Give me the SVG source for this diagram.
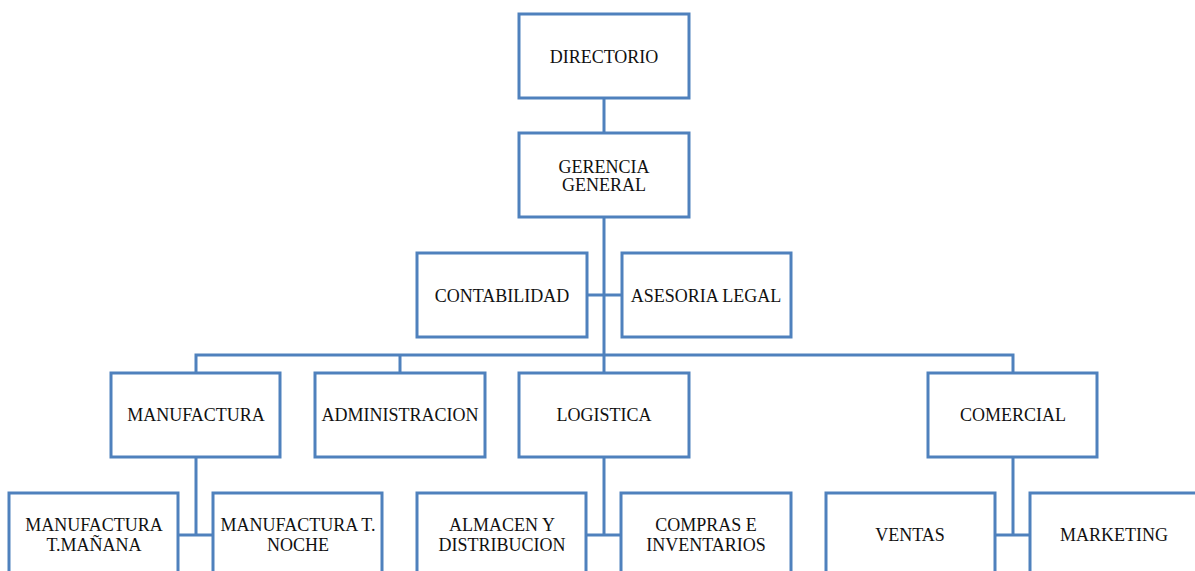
<svg xmlns="http://www.w3.org/2000/svg" width="1195" height="571" viewBox="0 0 1195 571">
<style>
.box{fill:#fff;stroke:#4F81BD;stroke-width:3}
.lbl{font-family:"Liberation Serif","Times New Roman",serif;font-size:18px;fill:#111;text-anchor:middle}
.con{fill:none;stroke:#4F81BD;stroke-width:3}
</style>
<rect width="1195" height="571" fill="#fff"/>
<g id="connectors">
<path class="con" d="M604 98V355"/>
<path class="con" d="M587 295H622"/>
<path class="con" d="M196 373V355H1013V373"/>
<path class="con" d="M400 355V373"/>
<path class="con" d="M604 355V373"/>
<path class="con" d="M196 457V535M178 535H213"/>
<path class="con" d="M604 457V535M586 535H621"/>
<path class="con" d="M1013 457V535M995 535H1030"/>
</g>
<g id="directorio"><rect class="box" x="519" y="14" width="170" height="84"/><text class="lbl" x="604" y="63">DIRECTORIO</text></g>
<g id="gerencia"><rect class="box" x="519" y="133" width="170" height="84"/><text class="lbl" x="604" y="173">GERENCIA</text><text class="lbl" x="604" y="191">GENERAL</text></g>
<g id="contabilidad"><rect class="box" x="417" y="253" width="170" height="84"/><text class="lbl" x="502" y="302">CONTABILIDAD</text></g>
<g id="asesoria"><rect class="box" x="622" y="253" width="169" height="84"/><text class="lbl" x="706" y="302">ASESORIA LEGAL</text></g>
<g id="manufactura"><rect class="box" x="111" y="373" width="169" height="84"/><text class="lbl" x="196" y="421">MANUFACTURA</text></g>
<g id="administracion"><rect class="box" x="315" y="373" width="170" height="84"/><text class="lbl" x="400" y="421">ADMINISTRACION</text></g>
<g id="logistica"><rect class="box" x="519" y="373" width="170" height="84"/><text class="lbl" x="604" y="421">LOGISTICA</text></g>
<g id="comercial"><rect class="box" x="928" y="373" width="169" height="84"/><text class="lbl" x="1013" y="421">COMERCIAL</text></g>
<g id="manuf-manana"><rect class="box" x="9" y="493" width="169" height="84"/><text class="lbl" x="94" y="531">MANUFACTURA</text><text class="lbl" x="94" y="551">T.MAÑANA</text></g>
<g id="manuf-noche"><rect class="box" x="213" y="493" width="169" height="84"/><text class="lbl" x="298" y="531">MANUFACTURA T.</text><text class="lbl" x="298" y="551">NOCHE</text></g>
<g id="almacen"><rect class="box" x="417" y="493" width="169" height="84"/><text class="lbl" x="502" y="531">ALMACEN Y</text><text class="lbl" x="502" y="551">DISTRIBUCION</text></g>
<g id="compras"><rect class="box" x="621" y="493" width="170" height="84"/><text class="lbl" x="706" y="531">COMPRAS E</text><text class="lbl" x="706" y="551">INVENTARIOS</text></g>
<g id="ventas"><rect class="box" x="826" y="493" width="169" height="84"/><text class="lbl" x="910" y="541">VENTAS</text></g>
<g id="marketing"><rect class="box" x="1030" y="493" width="169" height="84"/><text class="lbl" x="1114" y="541">MARKETING</text></g>
</svg>
